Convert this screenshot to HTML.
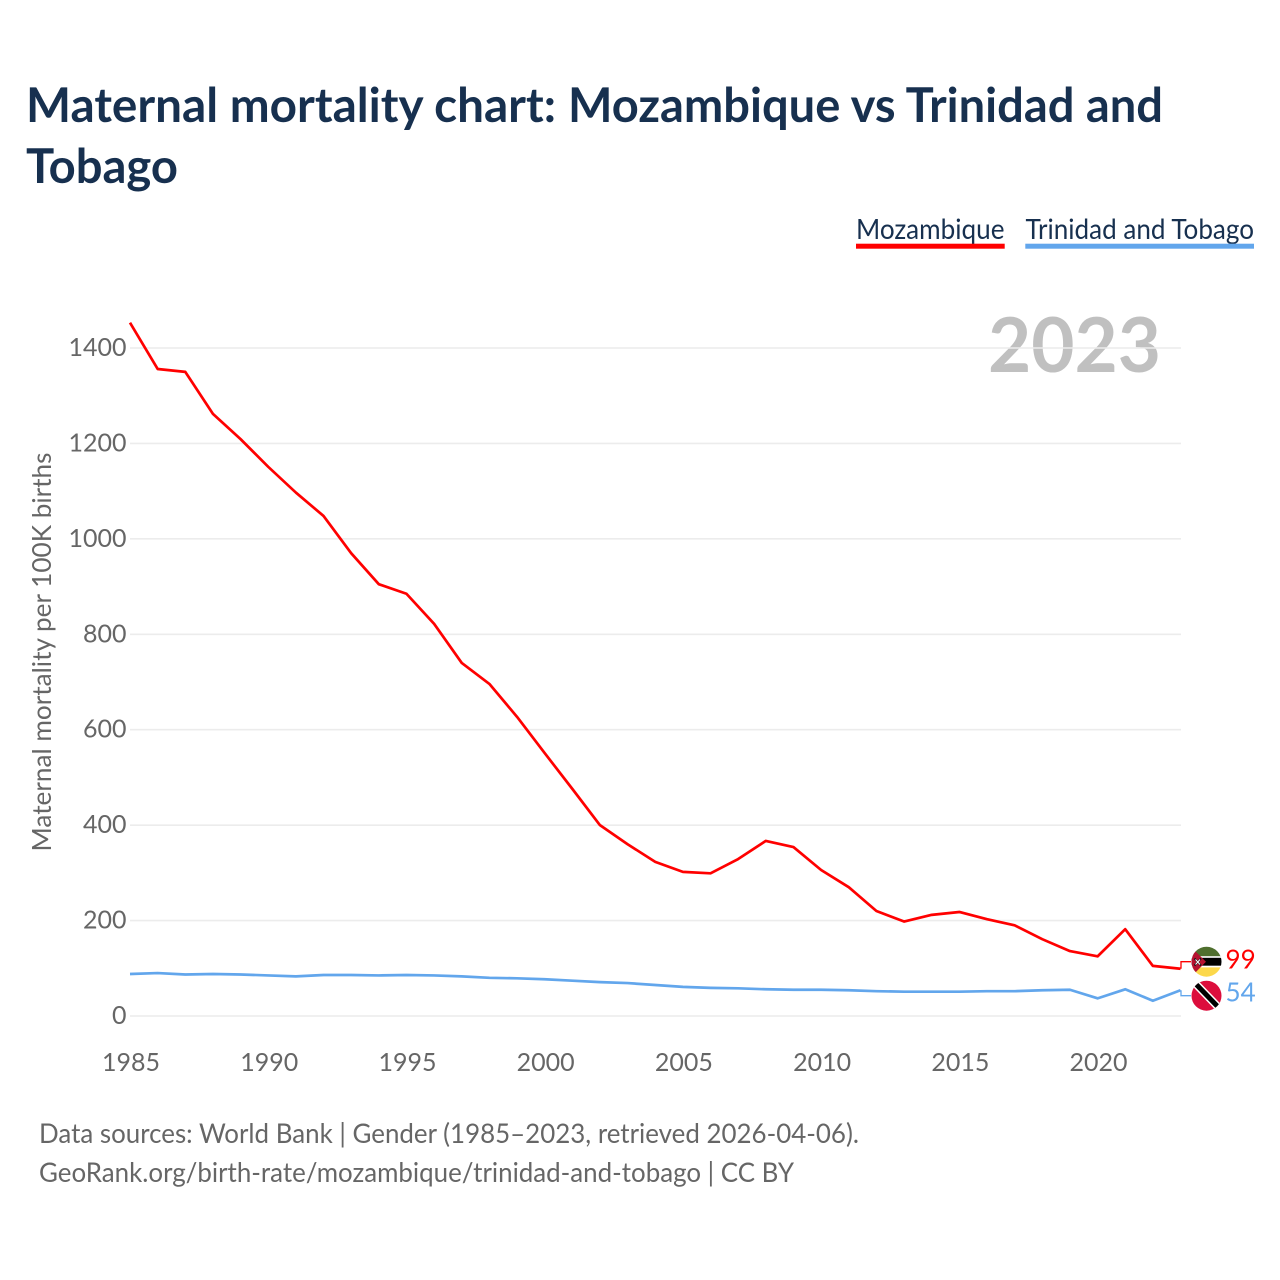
<!DOCTYPE html>
<html>
<head>
<meta charset="utf-8">
<title>Maternal mortality chart: Mozambique vs Trinidad and Tobago</title>
<style>
html,body{margin:0;padding:0;background:#fff;}
svg{display:block;}
text{font-family:"Lato","Carlito","Liberation Sans",sans-serif;}
</style>
</head>
<body>
<svg id="chart" width="1280" height="1280" viewBox="0 0 1280 1280" xmlns="http://www.w3.org/2000/svg">
  <rect width="1280" height="1280" fill="#ffffff"/>
  <text x="26" y="122" font-size="48" font-weight="700" fill="#17304f" textLength="530" lengthAdjust="spacingAndGlyphs">Maternal mortality chart:</text>
  <text x="568" y="122" font-size="48" font-weight="700" fill="#17304f" textLength="595" lengthAdjust="spacingAndGlyphs">Mozambique vs Trinidad and</text>
  <text x="26" y="183" font-size="48" font-weight="700" fill="#17304f" textLength="152" lengthAdjust="spacingAndGlyphs">Tobago</text>

  <g>
    <text x="856" y="239" font-size="28" fill="#17304f" textLength="148.5" lengthAdjust="spacingAndGlyphs">Mozambique</text>
    <rect x="856" y="243.7" width="148.7" height="5" fill="#ff0000"/>
  </g>
  <g>
    <text x="1025.5" y="239" font-size="28" fill="#17304f" textLength="228.5" lengthAdjust="spacingAndGlyphs">Trinidad and Tobago</text>
    <rect x="1025.3" y="243.7" width="228.7" height="5" fill="#62a6ec"/>
  </g>

  <text x="1161" y="372" font-size="76" font-weight="700" fill="#c0c0c0" text-anchor="end" textLength="173" lengthAdjust="spacingAndGlyphs">2023</text>

  <g id="grid"></g>
  <g id="yticks"></g>
  <g id="xticks"></g>

  <text transform="translate(51,652) rotate(-90)" font-size="26" fill="#666666" text-anchor="middle" textLength="399" lengthAdjust="spacingAndGlyphs">Maternal mortality per 100K births</text>

  <g id="series"></g>

  <g>
    <clipPath id="clipMoz"><circle cx="1206.5" cy="961.7" r="15"/></clipPath>
    <g clip-path="url(#clipMoz)">
      <rect x="1189" y="945" width="36" height="12" fill="#4f6f2e"/>
      <rect x="1189" y="956.2" width="36" height="1.6" fill="#fff"/>
      <rect x="1189" y="957.8" width="36" height="8" fill="#000"/>
      <rect x="1189" y="965.8" width="36" height="1.6" fill="#fff"/>
      <rect x="1189" y="967.4" width="36" height="12" fill="#fcd84a"/>
      <polygon points="1189,945 1206,961.7 1189,979" fill="#b5122f"/>
      <path d="M1194.5 958.5l6.5 7M1201 958.5l-6.5 7" stroke="#111" stroke-width="1.8"/>
      <path d="M1195.5 959.5l4.5 5M1200 959.5l-4.5 5" stroke="#fff" stroke-width="1"/>
    </g>
  </g>
  <g>
    <clipPath id="clipTT"><circle cx="1206.5" cy="995.7" r="15"/></clipPath>
    <g clip-path="url(#clipTT)">
      <rect x="1189" y="978" width="36" height="36" fill="#dc0d3c"/>
      <line x1="1192" y1="980" x2="1221" y2="1010" stroke="#fff" stroke-width="8"/>
      <line x1="1192" y1="980" x2="1221" y2="1010" stroke="#000" stroke-width="5"/>
    </g>
  </g>
  <text x="1225.5" y="968.5" font-size="26" fill="#ff0000">99</text>
  <text x="1225.5" y="1001.5" font-size="26" fill="#62a6ec">54</text>

  <text x="39" y="1143" font-size="27" fill="#666666" textLength="820" lengthAdjust="spacingAndGlyphs">Data sources: World Bank | Gender (1985–2023, retrieved 2026-04-06).</text>
  <text x="39" y="1182" font-size="27" fill="#666666" textLength="755" lengthAdjust="spacingAndGlyphs">GeoRank.org/birth-rate/mozambique/trinidad-and-tobago | CC BY</text>
</svg>
<script>
const years = [1985,1986,1987,1988,1989,1990,1991,1992,1993,1994,1995,1996,1997,1998,1999,2000,2001,2002,2003,2004,2005,2006,2007,2008,2009,2010,2011,2012,2013,2014,2015,2016,2017,2018,2019,2020,2021,2022,2023];
const mozambique = [1453,1356,1350,1262,1209,1151,1097,1048,970,905,885,822,740,696,627,551,476,400,360,323,302,299,329,367,354,306,270,220,198,212,218,203,190,161,136,125,182,105,99];
const trinidad = [88,90,87,88,87,85,83,86,86,85,86,85,83,80,79,77,74,71,69,65,61,59,58,56,55,55,54,52,51,51,51,52,52,54,55,37,56,32,54];
const yTickValues = [0,200,400,600,800,1000,1200,1400];
const xTickValues = [1985,1990,1995,2000,2005,2010,2015,2020];

const NS = 'http://www.w3.org/2000/svg';
function xScale(year){ return 130 + (year - 1985) * (1180.5 - 130) / (2023 - 1985); }
function yScale(v){ return 1016 - v * (1016 - 348) / 1400; }
function make(tag, attrs, parent){
  const el = document.createElementNS(NS, tag);
  for (const k in attrs) el.setAttribute(k, attrs[k]);
  parent.appendChild(el);
  return el;
}
const grid = document.getElementById('grid');
const yticks = document.getElementById('yticks');
const xticks = document.getElementById('xticks');
const series = document.getElementById('series');

yTickValues.forEach(function(v){
  const line = make('line', {x1:130, x2:1181, y1:yScale(v), y2:yScale(v), stroke:'#ececec', 'stroke-width':1.6}, grid);
  
  
  const t = make('text', {x:126.5, y:yScale(v)+8, 'font-size':25, fill:'#666666', 'text-anchor':'end'}, yticks);
  
  
  t.textContent = v;
});
xTickValues.forEach(function(v){
  const t = make('text', {x:xScale(v)+1, y:1071, 'font-size':25, fill:'#666666', 'text-anchor':'middle'}, xticks);
  
  
  t.textContent = v;
});
function pointsFor(vals){
  return vals.map(function(v,i){ return xScale(years[i]).toFixed(2) + ',' + yScale(v).toFixed(2); }).join(' ');
}
const mozLine = make('polyline', {points:pointsFor(mozambique), fill:'none', stroke:'#ff0000', 'stroke-width':2.7, 'stroke-linejoin':'round'}, series);


const ttLine = make('polyline', {points:pointsFor(trinidad), fill:'none', stroke:'#62a6ec', 'stroke-width':2.7, 'stroke-linejoin':'round'}, series);



const mozEnd = yScale(mozambique[mozambique.length-1]);
const ttEnd = yScale(trinidad[trinidad.length-1]);
const mozLeader = make('polyline', {points:'1181,'+mozEnd+' 1181,961.7 1191,961.7', fill:'none', stroke:'#ff0000', 'stroke-width':1.3}, series);


const ttLeader = make('polyline', {points:'1181,'+ttEnd+' 1181,995.7 1191,995.7', fill:'none', stroke:'#62a6ec', 'stroke-width':1.3}, series);


</script>
</body>
</html>
